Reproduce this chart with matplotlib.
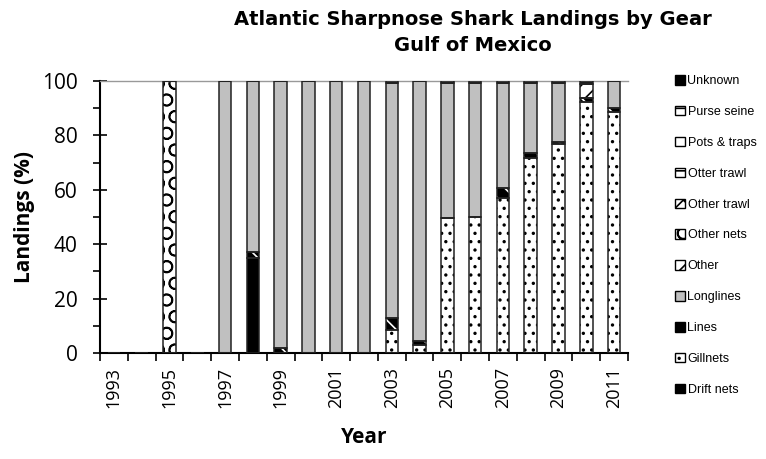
import matplotlib
matplotlib.use("Agg")
import matplotlib.pyplot as plt
from matplotlib.patches import Patch
from matplotlib.ticker import MultipleLocator, FixedLocator
import numpy as np

plt.rcParams['font.family'] = ['Open Sans', 'DejaVu Sans']
plt.rcParams['hatch.linewidth'] = 1.2

years = list(range(1993, 2012))

# percent of landings per gear, one value per year 1993..2011
drift_nets  = [0, 0, 0, 0, 0, 35, 0, 0, 0, 0, 0, 0, 0, 0, 0, 0, 0, 0, 0]
gillnets    = [0, 0, 0, 0, 0, 0, 0, 0, 0, 0, 8.4, 3, 49.5, 50.1, 57, 71.6, 76.8, 92.4, 88.7]
lines       = [0, 0, 0, 0, 0, 2, 1.7, 0, 0, 0, 4.3, 1.5, 0, 0, 3.5, 1.8, 0.7, 1.2, 1.3]
longlines   = [0, 0, 0, 0, 100, 63, 98.3, 100, 100, 100, 86.6, 95.5, 49.8, 49.2, 38.8, 25.9, 21.8, 0, 10]
other       = [0, 0, 0, 0, 0, 0, 0, 0, 0, 0, 0, 0, 0, 0, 0, 0, 0, 5.4, 0]
other_nets  = [0, 0, 100, 0, 0, 0, 0, 0, 0, 0, 0, 0, 0, 0, 0, 0, 0, 0, 0]
other_trawl = [0] * 19
otter_trawl = [0] * 19
pots_traps  = [0] * 19
purse_seine = [0] * 19
unknown     = [0, 0, 0, 0, 0, 0, 0, 0, 0, 0, 0.7, 0, 0.7, 0.7, 0.7, 0.7, 0.7, 1.0, 0]

# bottom-to-top stacking order: (label, values, face, hatch, hatch colour)
series = [
    ("Drift nets",   drift_nets,  "black",   None,   "black"),
    ("Gillnets",     gillnets,    "white",   "..",   "black"),
    ("Lines",        lines,       "black",   "\\\\", "white"),
    ("Longlines",    longlines,   "#c0c0c0", None,   "black"),
    ("Other",        other,       "white",   "//",   "black"),
    ("Other nets",   other_nets,  "white",   "O",    "black"),
    ("Other trawl",  other_trawl, "white",   "xx",   "black"),
    ("Otter trawl",  otter_trawl, "white",   "--",   "black"),
    ("Pots & traps", pots_traps,  "white",   None,   "black"),
    ("Purse seine",  purse_seine, "white",   "+",    "black"),
    ("Unknown",      unknown,     "black",   None,   "black"),
]

fig = plt.figure(figsize=(7.66, 4.59), dpi=100)
ax = fig.add_axes([100/766, 106/459, 528/766, 272/459])

x = np.arange(len(years))
w = 0.45
bottom = np.zeros(len(years))
handles = []
for name, vals, face, hatch, hcol in series:
    vals = np.array(vals, dtype=float)
    # fill + hatch first, then the outline on top
    ax.bar(x, vals, w, bottom=bottom, color=face, hatch=hatch,
           edgecolor=hcol, linewidth=0, zorder=2)
    ax.bar(x, vals, w, bottom=bottom, fill=False,
           edgecolor="#222222", linewidth=1.1, zorder=3)
    handles.append(Patch(facecolor=face, hatch=hatch, edgecolor="black", linewidth=1.0))
    bottom += vals

ax.set_xlim(-0.5, len(years) - 0.5)
ax.set_ylim(0, 100)

ax.yaxis.set_major_locator(MultipleLocator(20))
ax.yaxis.set_minor_locator(MultipleLocator(10))
ax.tick_params(axis='y', which='major', direction='inout', length=10, width=1.2, labelsize=15, pad=11)
ax.tick_params(axis='y', which='minor', direction='out', length=5, width=1.2)

ax.xaxis.set_major_locator(FixedLocator(x[::2]))
ax.set_xticklabels([str(y) for y in years[::2]], rotation=90, fontsize=13)
ax.xaxis.set_minor_locator(FixedLocator(np.arange(-0.5, len(years), 1.0)))
ax.tick_params(axis='x', which='major', length=0, pad=10)
ax.tick_params(axis='x', which='minor', direction='out', length=6, width=1.2)

for s in ['left', 'bottom']:
    ax.spines[s].set_linewidth(1.5)
ax.spines['right'].set_visible(False)
ax.spines['top'].set_color("#999999")
ax.spines['top'].set_linewidth(1.0)

ax.set_ylabel("Landings (%)", fontsize=15, fontweight='bold', labelpad=5)
ax.set_xlabel("Year", fontsize=15, fontweight='bold', labelpad=14)

fig.text(473/766, 1 - 10/459, "Atlantic Sharpnose Shark Landings by Gear\nGulf of Mexico",
         ha='center', va='top', fontsize=14, fontweight='bold', linespacing=1.45,
         family=['DejaVu Sans'])

leg = fig.legend(handles[::-1], [s[0] for s in series][::-1],
                 loc='upper left', bbox_to_anchor=(670/766, 1 - 70/459),
                 frameon=False, handlelength=0.8, handleheight=0.8,
                 handletextpad=0.2, labelspacing=1.5, borderaxespad=0,
                 prop={'family': 'Liberation Sans', 'size': 9})

fig.savefig("out.png", dpi=100)
